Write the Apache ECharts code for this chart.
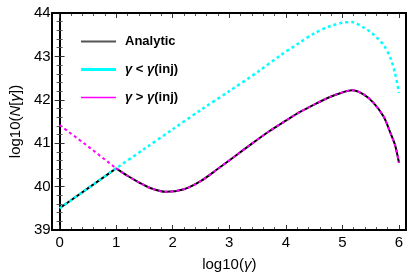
<!DOCTYPE html>
<html>
<head>
<meta charset="utf-8">
<script src="https://cdn.jsdelivr.net/npm/echarts@6/dist/echarts.min.js"></script>
<style>html,body{margin:0;padding:0;background:#fff}#c{width:415px;height:280px}</style>
</head>
<body>
<div id="c"></div>
<script>
// ---- data ----
var xTicks = [0, 1, 2, 3, 4, 5, 6];
var yTicks = [39, 40, 41, 42, 43, 44];

// Analytic, linear part (gamma < gamma_inj)
var analyticLowX = [0, 0.5, 1];
var analyticLowY = [39.5, 39.96, 40.42];

// Analytic / gamma > gamma_inj shared curve (1..6)
var curveX = [1.0, 1.2, 1.4, 1.6, 1.88, 2.2, 2.5, 2.8, 3.1, 3.4, 3.7, 4.0, 4.25, 4.5, 4.79, 5.0, 5.17, 5.38, 5.55, 5.73, 5.85, 5.93, 6.0];
var curveY = [40.42, 40.25, 40.10, 39.97, 39.88, 39.94, 40.13, 40.41, 40.70, 40.99, 41.27, 41.52, 41.72, 41.89, 42.07, 42.17, 42.22, 42.12, 41.93, 41.61, 41.23, 40.96, 40.55];

// gamma < gamma(inj) (cyan)
var lowX = [0, 0.5, 1, 1.5, 2, 2.5, 3, 3.5, 3.91, 4.2, 4.5, 4.79, 5.02, 5.17, 5.38, 5.49, 5.61, 5.73, 5.85, 5.93, 6.0];
var lowY = [39.5, 39.96, 40.42, 40.87, 41.32, 41.77, 42.2, 42.64, 43.03, 43.28, 43.53, 43.70, 43.78, 43.79, 43.66, 43.57, 43.43, 43.26, 42.96, 42.61, 42.16];

// gamma > gamma(inj) (magenta), part before 1
var highX = [0, 0.5, 1];
var highY = [41.42, 40.93, 40.42];

function pairs(xs, ys) { return xs.map(function (x, i) { return [x, ys[i]]; }); }

var chart = echarts.init(document.getElementById('c'), null, {renderer: 'canvas'});
var FONT = 'Liberation Sans';
var tickCommon = {show: true, inside: true, length: 5, lineStyle: {color: '#333', width: 1}};
var minorCommon = {show: true, splitNumber: 5, length: 3, lineStyle: {color: '#555', width: 1}};

var option = {
  backgroundColor: '#fff',
  animation: false,
  grid: {left: 58, right: 16, top: 13, bottom: 50},
  graphic: [{
    type: 'rect', z: 100, silent: true,
    shape: {x: 52, y: 13, width: 354, height: 217},
    style: {fill: 'none', stroke: '#000', lineWidth: 2}
  }],
  legend: {
    orient: 'vertical', left: 76, top: 30,
    itemWidth: 35, itemHeight: 14, itemGap: 15,
    symbolKeepAspect: true,
    textStyle: {fontFamily: 'Liberation Sans', fontWeight: 'bold', fontSize: 13, color: '#000', padding: [0, 0, 0, 4],
      rich: {i: {fontFamily: 'Liberation Sans', fontWeight: 'bold', fontStyle: 'italic', fontSize: 13, color: '#000'}}},
    formatter: function (n) { return n.replace(/γ/g, '{i|γ}'); },
    data: [
      {name: 'Analytic', icon: 'path://M0,0H35V2H0Z', itemStyle: {color: '#555'}},
      {name: 'γ < γ(inj)', icon: 'path://M0,0H35V3H0Z', itemStyle: {color: '#00ffff'}},
      {name: 'γ > γ(inj)', icon: 'path://M0,0H35V1.5H0Z', itemStyle: {color: '#ff00ff'}}
    ]
  },
  xAxis: [{
    type: 'value', position: 'bottom', min: 0, max: 6, interval: 1,
    name: 'log10({i|γ})', nameLocation: 'middle', nameGap: 27,
    nameTextStyle: {fontFamily: FONT, fontSize: 15, color: '#000',
      rich: {i: {fontFamily: FONT, fontSize: 15, fontStyle: 'italic', color: '#000'}}},
    axisLine: {show: true, lineStyle: {color: '#000', width: 2}},
    axisTick: tickCommon, minorTick: minorCommon,
    splitLine: {show: false},
    axisLabel: {fontFamily: FONT, fontSize: 15, color: '#000', margin: 5,
      formatter: function (v) { return xTicks.indexOf(v) >= 0 ? String(v) : ''; }}
  }, {
    type: 'value', position: 'top', min: 0, max: 6, interval: 1,
    axisLine: {show: true, lineStyle: {color: '#000', width: 2}},
    axisTick: tickCommon, minorTick: minorCommon,
    splitLine: {show: false}, axisLabel: {show: false}
  }],
  yAxis: [{
    type: 'value', position: 'left', offset: 6, min: 39, max: 44, interval: 1,
    name: 'log10({i|N}[{i|γ}])', nameLocation: 'middle', nameGap: 30, nameRotate: 90,
    nameTextStyle: {fontFamily: FONT, fontSize: 15, color: '#000',
      rich: {i: {fontFamily: FONT, fontSize: 15, fontStyle: 'italic', color: '#000'}}},
    axisLine: {show: true, lineStyle: {color: '#000', width: 2}},
    axisTick: tickCommon, minorTick: minorCommon,
    splitLine: {show: false},
    axisLabel: {fontFamily: FONT, fontSize: 15, color: '#000', margin: 3,
      formatter: function (v) { return yTicks.indexOf(v) >= 0 ? String(v) : ''; }}
  }, {
    type: 'value', position: 'right', offset: 7, min: 39, max: 44, interval: 1,
    axisLine: {show: true, lineStyle: {color: '#000', width: 2}},
    axisTick: tickCommon, minorTick: minorCommon,
    splitLine: {show: false}, axisLabel: {show: false}
  }],
  series: [
    {name: 'Analytic', type: 'line', symbol: 'none', data: pairs(analyticLowX, analyticLowY),
      lineStyle: {color: '#000', width: 2}, itemStyle: {color: '#000'}, z: 2},
    {name: 'Analytic', type: 'line', symbol: 'none', smooth: 0.3, data: pairs(curveX, curveY),
      lineStyle: {color: '#000', width: 2}, itemStyle: {color: '#000'}, z: 2},
    {name: 'γ < γ(inj)', type: 'line', symbol: 'none', smooth: 0.3, data: pairs(lowX, lowY),
      lineStyle: {color: '#00ffff', width: 2.5, type: [3, 3]}, itemStyle: {color: '#00ffff'}, z: 3},
    {name: 'γ > γ(inj)', type: 'line', symbol: 'none', data: pairs(highX, highY),
      lineStyle: {color: '#ff00ff', width: 2, type: [3, 3]}, itemStyle: {color: '#ff00ff'}, z: 4},
    {name: 'γ > γ(inj)', type: 'line', symbol: 'none', smooth: 0.3, data: pairs(curveX, curveY),
      lineStyle: {color: '#ff00ff', width: 2, type: [3, 3]}, itemStyle: {color: '#ff00ff'}, z: 4}
  ]
};
chart.setOption(option);
</script>
</body>
</html>
